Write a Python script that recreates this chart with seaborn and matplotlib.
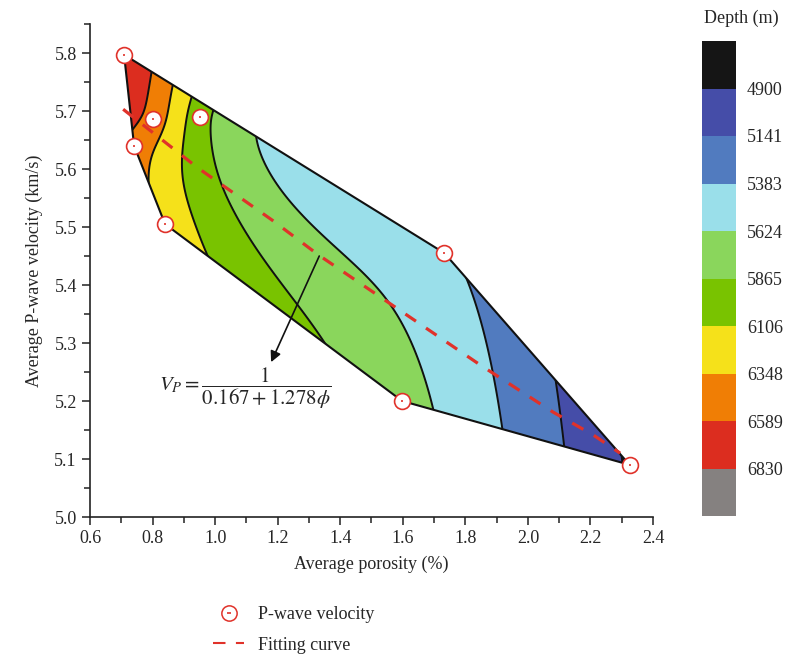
import numpy as np
import matplotlib
matplotlib.use("Agg")
import matplotlib.pyplot as plt
import seaborn as sns
from matplotlib.patches import Polygon
from matplotlib.lines import Line2D
from matplotlib.legend_handler import HandlerTuple

# ---------------- data ----------------
porosity = [0.709, 0.741, 0.802, 0.840, 0.952, 1.598, 1.733, 2.325]
velocity = [5.797, 5.640, 5.686, 5.505, 5.690, 5.200, 5.455, 5.090]
depth = [6850, 6500, 6490, 6290, 5960, 5720, 5410, 4870]

fit_porosity = [0.706, 0.942, 1.182, 1.330, 1.480, 1.848, 2.080, 2.210, 2.295]
fit_velocity = [5.703, 5.603, 5.512, 5.452, 5.397, 5.262, 5.181, 5.141, 5.110]

depth_levels = [4900, 5141, 5383, 5624, 5865, 6106, 6348, 6589, 6830]
band_colors = ['#151515', '#454da8', '#517bbf', '#9adfea', '#8ad65c',
               '#79c300', '#f5e11a', '#f07e05', '#dc2d1f', '#858180']

RED = '#e0322a'

# ---------------- style ----------------
sns.set_style("ticks")
plt.rcParams['font.family'] = ['Liberation Serif', 'DejaVu Serif']
plt.rcParams['mathtext.fontset'] = 'stix'

fig = plt.figure(figsize=(7.93, 6.56), dpi=100)
ax = fig.add_axes([90 / 793, 1 - 517 / 656, 563 / 793, 493 / 656])

px = np.array(porosity)
py = np.array(velocity)
pz = np.array(depth, dtype=float)

# convex hull of the samples (monotone chain)
pts = sorted(zip(px, py))
def cross(o, a, b):
    return (a[0] - o[0]) * (b[1] - o[1]) - (a[1] - o[1]) * (b[0] - o[0])
lower, upper = [], []
for p in pts:
    while len(lower) >= 2 and cross(lower[-2], lower[-1], p) <= 0:
        lower.pop()
    lower.append(p)
for p in reversed(pts):
    while len(upper) >= 2 and cross(upper[-2], upper[-1], p) <= 0:
        upper.pop()
    upper.append(p)
hull = np.array(lower[:-1] + upper[:-1])

# thin-plate-spline gridding of depth (with linear drift)
SY = 1.86
def tps(r):
    with np.errstate(all='ignore'):
        v = r ** 2 * np.log(r)
    return np.nan_to_num(v)
def kmat(a, b):
    return tps(np.hypot(a[:, None, 0] - b[None, :, 0], a[:, None, 1] - b[None, :, 1]))
X = np.c_[px, py * SY]
n = len(px)
P = np.c_[np.ones(n), X]
A = np.zeros((n + 3, n + 3))
A[:n, :n] = kmat(X, X)
A[:n, n:] = P
A[n:, :n] = P.T
sol = np.linalg.solve(A, np.r_[pz, np.zeros(3)])
gx = np.linspace(px.min() - 0.01, px.max() + 0.01, 400)
gy = np.linspace(py.min() - 0.01, py.max() + 0.01, 400)
GX, GY = np.meshgrid(gx, gy)
G = np.c_[GX.ravel(), GY.ravel() * SY]
Z = (kmat(G, X) @ sol[:n] + np.c_[np.ones(len(G)), G] @ sol[n:]).reshape(GX.shape)
lv = [depth_levels[0] - 241] + depth_levels + [depth_levels[-1] + 241]
Z = np.clip(Z, lv[0] + 1, lv[-1] - 1)

cs = ax.contourf(GX, GY, Z, levels=lv, colors=band_colors, zorder=1)
cl = ax.contour(GX, GY, Z, levels=depth_levels, colors='#111111', linewidths=1.4, zorder=2)
clip = Polygon(hull, closed=True, transform=ax.transData, fill=False, lw=0)
ax.add_patch(clip)
cs.set_clip_path(clip)
cl.set_clip_path(clip)
ax.add_patch(Polygon(hull, closed=True, fill=False, ec='#111111', lw=1.5, zorder=3))

# fitting curve
sns.lineplot(x=fit_porosity, y=fit_velocity, ax=ax, color=RED, lw=2.3,
             linestyle=(0, (4, 3.8)), zorder=4, legend=False)

# points
sns.scatterplot(x=porosity, y=velocity, ax=ax, s=130, facecolor='white',
                edgecolor=RED, linewidth=1.2, zorder=5, legend=False)
ax.scatter(porosity, velocity, s=3, color=RED, zorder=6, marker='_', linewidths=1.2)

# annotation
ax.annotate('', xy=(1.179, 5.267), xytext=(1.333, 5.45),
            arrowprops=dict(arrowstyle='-|>', color='#111111', lw=1.2,
                            mutation_scale=16, shrinkA=0, shrinkB=0), zorder=7)
ax.text(1.096, 5.222, r'$V_P = \dfrac{1}{0.167 + 1.278\phi}$', ha='center',
        va='center', fontsize=15)

# axes
ax.set_xlim(0.6, 2.4)
ax.set_ylim(5.0, 5.85)
ax.set_xticks(np.arange(0.6, 2.41, 0.2))
ax.set_xticks(np.arange(0.7, 2.4, 0.2), minor=True)
ax.set_yticks(np.arange(5.0, 5.81, 0.1))
ax.set_yticks(np.arange(5.05, 5.86, 0.1), minor=True)
ax.set_xticklabels([f'{v:.1f}' for v in np.arange(0.6, 2.41, 0.2)])
ax.set_yticklabels([f'{v:.1f}' for v in np.arange(5.0, 5.81, 0.1)])
ax.tick_params(which='major', length=6, width=1.1, labelsize=13, color='#222222')
ax.tick_params(which='minor', length=4, width=1.1, color='#222222')
for s in ['top', 'right']:
    ax.spines[s].set_visible(False)
for s in ['left', 'bottom']:
    ax.spines[s].set_linewidth(1.2)
    ax.spines[s].set_color('#222222')
ax.set_xlabel('Average porosity (%)', fontsize=13, labelpad=6)
ax.set_ylabel('Average P-wave velocity (km/s)', fontsize=13, labelpad=8)

# colorbar
cax = fig.add_axes([702 / 793, 1 - 516 / 656, 34 / 793, 475 / 656])
cb = fig.colorbar(cs, cax=cax, ticks=depth_levels)
cb.ax.invert_yaxis()
cb.outline.set_visible(False)
cb.ax.tick_params(length=0, labelsize=13, pad=8)
cb.ax.set_yticklabels([str(v) for v in depth_levels])
fig.text(741 / 793, 1 - 18 / 656, 'Depth (m)', ha='center', va='center', fontsize=13)

# legend
h1 = (Line2D([], [], marker='o', ls='none', ms=11, mfc='white', mec=RED, mew=1.1),
      Line2D([], [], marker='_', ls='none', ms=2.5, color=RED, mew=1.2))
h2 = Line2D([], [], color=RED, lw=1.5, linestyle=(0, (6, 5)))
fig.legend([h1, h2], ['P-wave velocity', 'Fitting curve'], loc='upper left',
           bbox_to_anchor=(197 / 793, 1 - 590 / 656), frameon=False, fontsize=13,
           handlelength=1.7, handletextpad=0.8, labelspacing=0.75,
           handler_map={tuple: HandlerTuple(ndivide=1)})

fig.savefig('out.png', dpi=100)
